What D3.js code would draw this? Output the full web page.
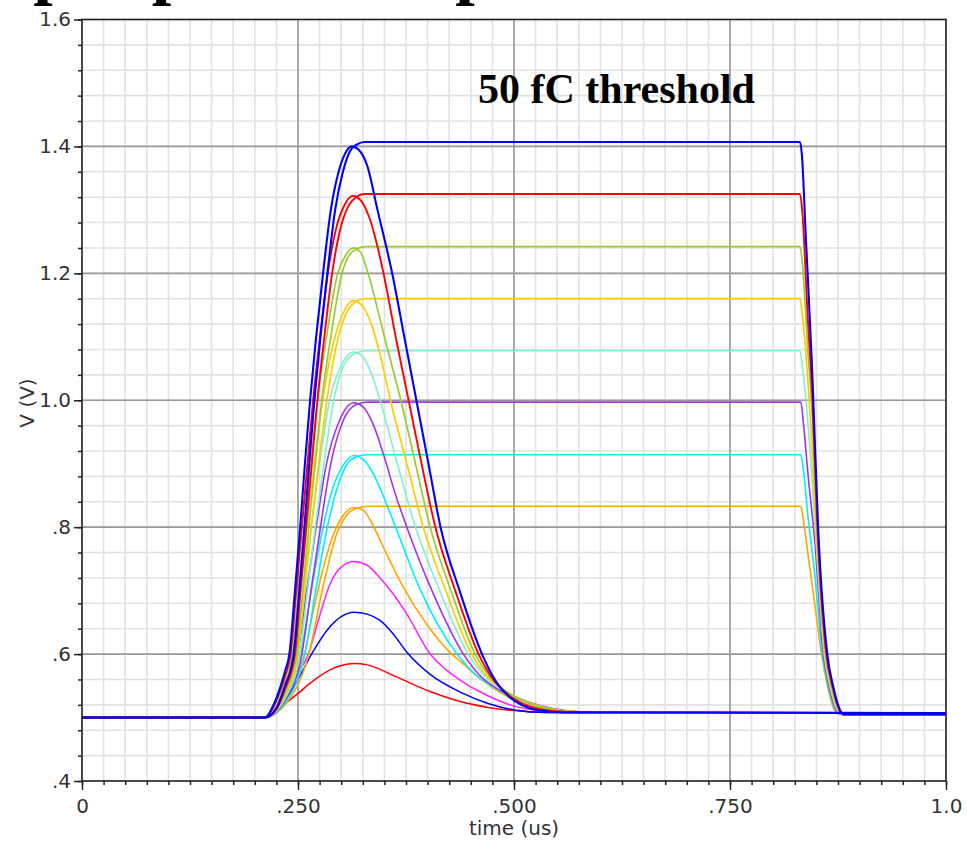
<!DOCTYPE html>
<html>
<head>
<meta charset="utf-8">
<script src="https://cdn.jsdelivr.net/npm/d3@7"></script>
<style>
  body { margin: 0; background: #fff; }
  svg { display: block; }
</style>
</head>
<body>
<svg id="chart" width="967" height="842"></svg>
<script>
const X_TICKS = [0, 0.25, 0.5, 0.75, 1.0];
const X_TICK_LABELS = ['0', '.250', '.500', '.750', '1.0'];
const Y_TICKS = [0.4, 0.6, 0.8, 1.0, 1.2, 1.4, 1.6];
const Y_TICK_LABELS = ['.4', '.6', '.8', '1.0', '1.2', '1.4', '1.6'];

// shaper pulses, [time (us), V]
const pulseRedSmall = [[0,0.5],[0.212,0.5],[0.221,0.511],[0.235,0.522],[0.25,0.538],[0.265,0.555],[0.287,0.575],[0.3,0.582],[0.315,0.585],[0.33,0.583],[0.364,0.564],[0.403,0.541],[0.441,0.524],[0.47,0.516],[0.5,0.511],[0.54,0.508],[1.0,0.507]];
const pulseBlueSmall = [[0,0.5],[0.212,0.5],[0.22,0.506],[0.235,0.527],[0.25,0.56],[0.267,0.603],[0.287,0.643],[0.3,0.659],[0.315,0.666],[0.33,0.663],[0.345,0.653],[0.36,0.632],[0.376,0.603],[0.403,0.568],[0.441,0.538],[0.47,0.522],[0.5,0.512],[0.537,0.508],[1.0,0.507]];
const pulseMagenta = [[0,0.5],[0.212,0.5],[0.22,0.507],[0.23,0.52],[0.245,0.56],[0.262,0.6],[0.275,0.66],[0.287,0.71],[0.3,0.737],[0.315,0.746],[0.33,0.74],[0.345,0.72],[0.36,0.695],[0.376,0.663],[0.403,0.6],[0.42,0.577],[0.441,0.556],[0.46,0.541],[0.48,0.528],[0.5,0.518],[0.53,0.511],[0.56,0.508],[1.0,0.507]];
const pulseOrange = [[0,0.5],[0.212,0.5],[0.22,0.507],[0.23,0.52],[0.243,0.55],[0.2575,0.6],[0.265,0.65],[0.273,0.7],[0.282,0.75],[0.29,0.785],[0.302,0.818],[0.315,0.831],[0.326,0.826],[0.336,0.805],[0.35,0.765],[0.372,0.705],[0.4,0.645],[0.428,0.6],[0.441,0.585],[0.46,0.562],[0.48,0.543],[0.5,0.528],[0.53,0.515],[0.56,0.509],[1.0,0.507]];
const pulseCyan = [[0,0.5],[0.212,0.5],[0.22,0.508],[0.23,0.523],[0.242,0.555],[0.253,0.6],[0.2655,0.7],[0.279,0.8],[0.29,0.86],[0.302,0.897],[0.315,0.913],[0.326,0.906],[0.338,0.882],[0.35,0.845],[0.363,0.8],[0.392,0.7],[0.434,0.6],[0.45,0.575],[0.48,0.545],[0.5,0.532],[0.53,0.517],[0.56,0.51],[0.6,0.508],[1.0,0.507]];
const pulsePurple = [[0,0.5],[0.212,0.5],[0.22,0.509],[0.23,0.527],[0.24,0.56],[0.2495,0.6],[0.26,0.7],[0.271,0.8],[0.283,0.9],[0.298,0.968],[0.3145,0.996],[0.325,0.99],[0.337,0.962],[0.35,0.91],[0.362,0.855],[0.376,0.8],[0.405,0.7],[0.4415,0.6],[0.46,0.567],[0.48,0.546],[0.5,0.533],[0.53,0.519],[0.56,0.511],[0.6,0.508],[1.0,0.507]];
const pulseAqua = [[0,0.5],[0.212,0.5],[0.22,0.51],[0.23,0.53],[0.238,0.56],[0.247,0.6],[0.256,0.7],[0.265,0.8],[0.275,0.9],[0.2865,1.0],[0.3,1.055],[0.3145,1.076],[0.324,1.07],[0.335,1.042],[0.345,1.0],[0.365,0.9],[0.386,0.8],[0.414,0.7],[0.447,0.6],[0.465,0.567],[0.485,0.545],[0.505,0.53],[0.53,0.518],[0.56,0.51],[0.6,0.508],[1.0,0.507]];
const pulseGold = [[0,0.5],[0.212,0.5],[0.22,0.511],[0.23,0.535],[0.237,0.565],[0.245,0.6],[0.2527,0.7],[0.2605,0.8],[0.269,0.9],[0.2785,1.0],[0.29,1.085],[0.302,1.137],[0.314,1.157],[0.323,1.151],[0.335,1.12],[0.345,1.072],[0.357,1.0],[0.376,0.9],[0.395,0.8],[0.421,0.7],[0.451,0.6],[0.468,0.566],[0.488,0.544],[0.506,0.53],[0.53,0.518],[0.56,0.51],[0.6,0.508],[1.0,0.507]];
const pulseYellowGreen = [[0,0.5],[0.212,0.5],[0.22,0.512],[0.23,0.54],[0.236,0.567],[0.2435,0.6],[0.2505,0.7],[0.2575,0.8],[0.265,0.9],[0.2725,1.0],[0.283,1.1],[0.296,1.2],[0.305,1.228],[0.314,1.24],[0.322,1.234],[0.33,1.205],[0.35,1.1],[0.369,1.0],[0.386,0.9],[0.403,0.8],[0.427,0.7],[0.455,0.6],[0.472,0.564],[0.49,0.542],[0.508,0.528],[0.53,0.517],[0.56,0.51],[0.6,0.508],[1.0,0.507]];
const pulseRed = [[0,0.5],[0.212,0.5],[0.22,0.513],[0.23,0.545],[0.236,0.57],[0.2415,0.6],[0.248,0.7],[0.2545,0.8],[0.261,0.9],[0.2675,1.0],[0.2755,1.1],[0.2845,1.2],[0.294,1.27],[0.304,1.308],[0.3135,1.322],[0.322,1.316],[0.332,1.29],[0.349,1.2],[0.363,1.1],[0.378,1.0],[0.393,0.9],[0.409,0.8],[0.432,0.7],[0.459,0.6],[0.477,0.558],[0.493,0.536],[0.51,0.522],[0.53,0.513],[0.56,0.509],[1.0,0.507]];
const pulseBlue = [[0,0.5],[0.212,0.5],[0.22,0.515],[0.23,0.55],[0.235,0.573],[0.24,0.6],[0.2465,0.7],[0.2525,0.8],[0.258,0.9],[0.264,1.0],[0.271,1.1],[0.279,1.2],[0.288,1.3],[0.297,1.36],[0.305,1.39],[0.3125,1.4],[0.32,1.395],[0.33,1.37],[0.342,1.3],[0.359,1.2],[0.373,1.1],[0.387,1.0],[0.401,0.9],[0.415,0.8],[0.437,0.7],[0.463,0.6],[0.48,0.555],[0.495,0.532],[0.51,0.519],[0.53,0.511],[0.56,0.508],[1.0,0.507]];

// peak-hold outputs (only above threshold)
const holdOrange = [[0,0.5],[0.212,0.5],[0.225,0.507],[0.235,0.52],[0.2625,0.6],[0.278,0.7],[0.295,0.79],[0.307,0.82],[0.319,0.83],[0.332,0.833],[0.832,0.833],[0.835,0.81],[0.84,0.76],[0.846,0.7],[0.856,0.6],[0.863,0.548],[0.871,0.512],[0.878,0.505],[1.0,0.505]];
const holdCyan = [[0,0.5],[0.212,0.5],[0.225,0.508],[0.235,0.523],[0.258,0.6],[0.2705,0.7],[0.284,0.8],[0.295,0.86],[0.307,0.9],[0.318,0.911],[0.33,0.914],[0.832,0.914],[0.835,0.89],[0.84,0.82],[0.847,0.74],[0.857,0.6],[0.864,0.548],[0.872,0.512],[0.879,0.505],[1.0,0.505]];
const holdPurple = [[0,0.5],[0.212,0.5],[0.225,0.509],[0.235,0.527],[0.2545,0.6],[0.265,0.7],[0.276,0.8],[0.288,0.9],[0.303,0.97],[0.317,0.993],[0.33,0.997],[0.832,0.997],[0.8345,0.97],[0.8405,0.88],[0.848,0.78],[0.858,0.6],[0.865,0.548],[0.873,0.512],[0.88,0.505],[1.0,0.505]];
const holdAqua = [[0,0.5],[0.212,0.5],[0.225,0.51],[0.235,0.53],[0.252,0.6],[0.261,0.7],[0.27,0.8],[0.28,0.9],[0.2915,1.0],[0.305,1.06],[0.318,1.075],[0.328,1.078],[0.831,1.078],[0.834,1.05],[0.841,0.95],[0.8485,0.8],[0.859,0.6],[0.866,0.548],[0.874,0.512],[0.88,0.505],[1.0,0.505]];
const holdGold = [[0,0.5],[0.212,0.5],[0.225,0.511],[0.235,0.535],[0.25,0.6],[0.2577,0.7],[0.2655,0.8],[0.274,0.9],[0.2835,1.0],[0.295,1.09],[0.307,1.14],[0.318,1.156],[0.328,1.16],[0.831,1.16],[0.834,1.13],[0.843,0.97],[0.8495,0.8],[0.86,0.6],[0.867,0.548],[0.875,0.512],[0.881,0.505],[1.0,0.505]];
const holdYellowGreen = [[0,0.5],[0.212,0.5],[0.225,0.512],[0.235,0.54],[0.2485,0.6],[0.2555,0.7],[0.2625,0.8],[0.27,0.9],[0.2775,1.0],[0.288,1.1],[0.301,1.2],[0.31,1.23],[0.319,1.239],[0.328,1.242],[0.831,1.242],[0.8335,1.22],[0.84,1.08],[0.845,0.98],[0.8505,0.8],[0.861,0.6],[0.868,0.548],[0.876,0.512],[0.882,0.505],[1.0,0.505]];
const holdRed = [[0,0.5],[0.212,0.5],[0.225,0.513],[0.235,0.545],[0.2465,0.6],[0.253,0.7],[0.2595,0.8],[0.266,0.9],[0.2725,1.0],[0.2805,1.1],[0.2895,1.2],[0.299,1.27],[0.308,1.305],[0.317,1.32],[0.327,1.325],[0.831,1.325],[0.8335,1.3],[0.84,1.13],[0.8455,1.0],[0.8512,0.8],[0.8615,0.6],[0.8688,0.548],[0.8765,0.512],[0.882,0.505],[1.0,0.505]];
const holdBlue = [[0,0.5],[0.212,0.5],[0.225,0.515],[0.235,0.55],[0.245,0.6],[0.2515,0.7],[0.2575,0.8],[0.263,0.9],[0.269,1.0],[0.276,1.1],[0.284,1.2],[0.293,1.3],[0.302,1.36],[0.31,1.392],[0.318,1.403],[0.327,1.407],[0.831,1.407],[0.833,1.39],[0.838,1.25],[0.8446,1.063],[0.8464,1.0],[0.852,0.8],[0.8626,0.6],[0.8696,0.548],[0.8773,0.512],[0.882,0.505],[1.0,0.505]];

const COLORS = {
    blue: '#0000ff', red: '#ff0000', magenta: '#ff22ff', orange: '#ffa500',
    cyan: '#00eeff', purple: '#a033f0', aqua: '#7ff0d0', gold: '#ffcc00', yellowGreen: '#99cc33'
};

// drawn bottom-up, big blue on top
const traces = [
    {data: pulseRedSmall, color: COLORS.red, w: 1.5},
    {data: pulseBlueSmall, color: COLORS.blue, w: 1.5},
    {data: pulseMagenta, color: COLORS.magenta, w: 1.5},
    {data: holdOrange, color: COLORS.orange, w: 1.6},
    {data: pulseOrange, color: COLORS.orange, w: 1.6},
    {data: holdCyan, color: COLORS.cyan, w: 1.6},
    {data: pulseCyan, color: COLORS.cyan, w: 1.6},
    {data: holdPurple, color: COLORS.purple, w: 1.6},
    {data: pulsePurple, color: COLORS.purple, w: 1.6},
    {data: holdAqua, color: COLORS.aqua, w: 1.6},
    {data: pulseAqua, color: COLORS.aqua, w: 1.6},
    {data: holdGold, color: COLORS.gold, w: 1.7},
    {data: pulseGold, color: COLORS.gold, w: 1.7},
    {data: holdYellowGreen, color: COLORS.yellowGreen, w: 1.7},
    {data: pulseYellowGreen, color: COLORS.yellowGreen, w: 1.7},
    {data: holdRed, color: COLORS.red, w: 1.9},
    {data: pulseRed, color: COLORS.red, w: 1.9},
    {data: holdBlue, color: COLORS.blue, w: 2.1},
    {data: pulseBlue, color: COLORS.blue, w: 2.1}
];

const LEFT = 82, RIGHT = 946, TOP = 19.5, BOTTOM = 781;
const AXIS_FONT = '"DejaVu Sans", Verdana, sans-serif';
const SERIF = '"Liberation Serif", "Times New Roman", serif';

let svg = d3.select('#chart');
let x = d3.scaleLinear().domain([0, 1]).range([LEFT, RIGHT]);
let y = d3.scaleLinear().domain([0.4, 1.6]).range([BOTTOM, TOP]);

let xMinor = d3.range(0, 1.0001, 0.025);
let yMinor = d3.range(0.4, 1.6001, 0.04);

// grid
let grid = svg.append('g');
grid.selectAll('.vmin').data(xMinor).enter().append('line')
    .attr('x1', d => x(d)).attr('x2', d => x(d))
    .attr('y1', TOP).attr('y2', BOTTOM)
    .attr('stroke', '#e2e2e2').attr('stroke-width', 1.6);
grid.selectAll('.hmin').data(yMinor).enter().append('line')
    .attr('x1', LEFT).attr('x2', RIGHT)
    .attr('y1', d => y(d)).attr('y2', d => y(d))
    .attr('stroke', '#e2e2e2').attr('stroke-width', 1.6);
grid.selectAll('.vmaj').data(X_TICKS.slice(1, -1)).enter().append('line')
    .attr('x1', d => x(d)).attr('x2', d => x(d))
    .attr('y1', TOP).attr('y2', BOTTOM)
    .attr('stroke', '#999').attr('stroke-width', 1.6);
grid.selectAll('.hmaj').data(Y_TICKS.slice(1, -1)).enter().append('line')
    .attr('x1', LEFT).attr('x2', RIGHT)
    .attr('y1', d => y(d)).attr('y2', d => y(d))
    .attr('stroke', '#999').attr('stroke-width', 1.6);

// traces
svg.append('clipPath').attr('id', 'plot').append('rect')
    .attr('x', LEFT).attr('y', TOP).attr('width', RIGHT - LEFT).attr('height', BOTTOM - TOP);

let line = d3.line()
    .x(d => x(d[0]))
    .y(d => y(d[1]))
    .curve(d3.curveMonotoneX);

let curves = svg.append('g').attr('clip-path', 'url(#plot)');
traces.forEach(tr => {
    curves.append('path')
        .attr('d', line(tr.data))
        .attr('fill', 'none')
        .attr('stroke', tr.color)
        .attr('stroke-width', tr.w)
        .attr('stroke-linejoin', 'round');
});

// frame
svg.append('rect')
    .attr('x', LEFT).attr('y', TOP)
    .attr('width', RIGHT - LEFT).attr('height', BOTTOM - TOP)
    .attr('fill', 'none').attr('stroke', '#222').attr('stroke-width', 1.6);

// axes
function styleAxis(g) {
    g.select('.domain').remove();
    g.selectAll('.tick line').attr('stroke', '#222').attr('stroke-width', 1.5);
    g.selectAll('.tick text').attr('fill', '#333')
        .style('font-family', AXIS_FONT).style('font-size', '20px');
}

svg.append('g').attr('transform', `translate(0,${BOTTOM})`)
    .call(d3.axisBottom(x).tickValues(xMinor).tickSize(4).tickFormat(''))
    .call(styleAxis);
svg.append('g').attr('transform', `translate(0,${BOTTOM})`)
    .call(d3.axisBottom(x).tickValues(X_TICKS).tickSize(9).tickPadding(9)
        .tickFormat((d, i) => X_TICK_LABELS[i]))
    .call(styleAxis);
svg.append('g').attr('transform', `translate(${LEFT},0)`)
    .call(d3.axisLeft(y).tickValues(yMinor).tickSize(4).tickFormat(''))
    .call(styleAxis);
svg.append('g').attr('transform', `translate(${LEFT},0)`)
    .call(d3.axisLeft(y).tickValues(Y_TICKS).tickSize(8).tickPadding(3)
        .tickFormat((d, i) => Y_TICK_LABELS[i]))
    .call(styleAxis);

// labels
svg.append('text')
    .attr('x', (LEFT + RIGHT) / 2 - 0).attr('y', 835)
    .attr('text-anchor', 'middle')
    .attr('fill', '#333')
    .style('font-family', AXIS_FONT).style('font-size', '20px')
    .text('time (us)');

svg.append('text')
    .attr('transform', 'translate(34,403) rotate(-90)')
    .attr('text-anchor', 'middle')
    .attr('fill', '#333')
    .style('font-family', AXIS_FONT).style('font-size', '20px')
    .text('V (V)');

svg.append('text')
    .attr('x', 478).attr('y', 103)
    .attr('fill', '#000')
    .style('font-family', SERIF).style('font-weight', 'bold').style('font-size', '42px')
    .text('50 fC threshold');

// slide title, cut off by the top edge
svg.append('text')
    .attr('x', -33).attr('y', -9)
    .attr('fill', '#000')
    .style('font-family', SERIF).style('font-weight', 'bold').style('font-size', '70px')
    .text('Input pulse and peak detector output');
</script>
</body>
</html>
